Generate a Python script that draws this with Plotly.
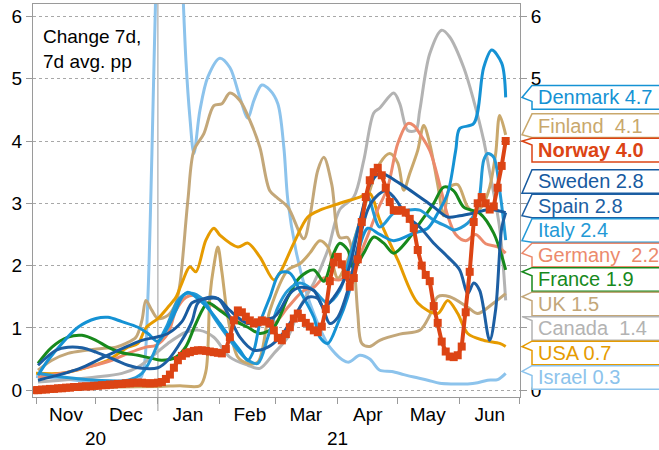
import pandas as pd
import plotly.graph_objects as go

BASE = pd.Timestamp("2021-01-01")


def days_to_dates(days):
    return [BASE + pd.Timedelta(days=int(d)) for d in days]


# ---------------- data (day offsets from 2021-01-01, values in pp) ----------------
israel_days = [-61, -45, -30, -15, -9, -7, -5, -3, -1, 2, 8, 12, 14, 16, 18, 21, 25, 31, 36, 41,
               45, 48, 52, 56, 60, 63, 65, 69, 74, 78, 86, 95, 101, 106, 111, 117, 123, 128, 135, 141,
               148, 155, 160, 165, 170, 174]
israel_vals = [0.22, 0.17, 0.13, 0.13, 0.18, 0.35, 1.5, 3.8, 6.5, 9.5, 10, 6.8, 5.3, 4.38, 3.8, 4.49, 5.03, 5.33, 5.18, 4.7,
               4.37, 4.65, 4.9, 4.82, 4.6, 3.9, 3.05, 2.25, 1.6, 1.23, 0.69, 0.45, 0.56, 0.5, 0.32, 0.3, 0.25, 0.21, 0.16, 0.11,
               0.1, 0.1, 0.12, 0.16, 0.17, 0.27]

canada_days = [-60, -31, -18, -10, -1, 5, 14, 21, 28, 36, 45, 51, 58, 65, 71, 78, 85, 91, 98, 103,
               108, 111, 118, 121, 125, 129, 131, 136, 142, 146, 153, 158, 163, 166, 171, 174]
canada_vals = [0.13, 0.21, 0.27, 0.37, 0.59, 0.75, 0.93, 0.96, 0.85, 0.53, 0.4, 0.35, 0.59, 0.85, 1.33, 1.72, 2.25, 2.9, 3.1, 3.69,
               4.45, 4.53, 4.77, 4.6, 4.17, 4.17, 4.49, 5.4, 5.78, 5.67, 5.18, 4.65, 4.01, 3.5, 2.6, 1.44]

finland_days = [-60, -39, -19, 1, 11, 21, 24, 26, 28, 30, 32, 35, 40, 45, 50, 56, 65, 71, 76, 81,
                85, 90, 95, 100, 105, 111, 116, 120, 123, 126, 130, 133, 136, 140, 143, 146, 150, 155, 159, 163,
                166, 169, 171, 174]
finland_vals = [0.03, 0.04, 0.05, 0.06, 0.07, 0.07, 0.3, 1.5, 2.0, 2.3, 1.9, 1.17, 0.53, 0.43, 0.45, 1.28, 1.93, 2.03, 2.2, 2.4,
                2.3, 1.8, 2.1, 2.6, 3.1, 3.64, 3.8, 3.65, 3.21, 3.48, 3.85, 4.25, 3.96, 3.3, 2.8, 3.26, 3.3, 2.94, 2.85, 3.0,
                3.26, 3.8, 4.41, 4.1]

uk_days = [-60, -53, -45, -36, -28, -21, -16, -11, -8, -6, -3, 0, 5, 9, 11, 15, 18, 23, 28, 32,
           36, 41, 46, 51, 56, 60, 65, 73, 76, 80, 83, 87, 91, 95, 98, 100, 102, 106, 111, 121,
           131, 136, 140, 146, 155, 160, 168, 174]
uk_vals = [0.32, 0.48, 0.59, 0.64, 0.67, 0.69, 0.75, 0.85, 1.12, 1.44, 1.28, 1.15, 1.2, 1.4, 1.7, 3.05, 3.85, 4.12, 4.57, 4.6,
           4.77, 4.65, 4.33, 3.9, 3.2, 3.08, 2.94, 2.43, 2.78, 3.53, 3.74, 3.3, 2.45, 2.45, 2.03, 1.23, 0.75, 0.7, 0.8, 0.9,
           0.96, 1.2, 1.5, 1.5, 1.33, 1.23, 1.4, 1.55]

usa_days = [-61, -48, -35, -25, -15, -10, -6, 0, 5, 9, 12, 16, 19, 24, 28, 31, 40, 45, 51, 58,
            61, 68, 75, 81, 91, 101, 106, 111, 120, 130, 140, 145, 150, 155, 163, 171, 174]
usa_vals = [0.27, 0.27, 0.37, 0.48, 0.69, 0.75, 1.0, 1.15, 1.33, 1.49, 1.72, 1.98, 1.9, 2.41, 2.6, 2.49, 2.3, 2.36, 2.14, 1.77,
            1.88, 2.36, 2.78, 2.89, 3.0, 3.1, 3.16, 2.73, 2.09, 1.4, 1.23, 1.44, 1.23, 0.91, 0.8, 0.75, 0.7]

germany_days = [-60, -48, -35, -23, -15, -6, -1, 5, 9, 14, 19, 24, 29, 34, 39, 49, 58, 65, 73, 78,
                83, 91, 97, 104, 110, 115, 120, 125, 128, 131, 136, 141, 145, 149, 154, 159, 164, 170, 174]
germany_vals = [0.21, 0.27, 0.37, 0.48, 0.59, 0.69, 0.72, 0.91, 1.28, 1.49, 1.52, 1.42, 1.33, 1.23, 1.12, 1.1, 1.07, 1.33, 1.6, 1.65,
                1.8, 1.77, 1.9, 2.4, 2.9, 3.26, 3.96, 4.28, 4.25, 4.12, 3.85, 3.3, 2.8, 2.5, 2.4, 2.5, 2.35, 2.3, 2.2]

france_days = [-60, -53, -45, -38, -31, -25, -18, -10, -3, 2, 9, 14, 19, 25, 31, 38, 45, 51, 58, 65,
               71, 78, 83, 88, 91, 95, 98, 103, 108, 113, 118, 125, 131, 138, 143, 148, 153, 161, 168, 174]
france_vals = [0.43, 0.69, 0.85, 0.88, 0.8, 0.69, 0.6, 0.56, 0.51, 0.48, 0.53, 0.7, 1.07, 1.4, 1.28, 1.12, 1.01, 0.91, 1.01, 1.49,
               1.81, 1.93, 1.75, 2.2, 2.36, 2.25, 1.95, 2.2, 2.46, 2.36, 2.2, 2.41, 2.68, 3.0, 3.26, 3.2, 2.94, 2.84, 2.52, 1.93]

italy_days = [-60, -48, -31, -15, -8, -3, 0, 5, 10, 14, 18, 23, 28, 35, 40, 45, 50, 55, 60, 65,
              71, 78, 85, 91, 96, 101, 105, 111, 118, 125, 131, 138, 145, 148, 155, 160, 163, 165, 168, 171, 174]
italy_vals = [0.27, 0.21, 0.16, 0.16, 0.27, 0.53, 0.75, 1.07, 1.44, 1.55, 1.55, 1.44, 1.17, 0.85, 0.64, 0.48, 0.43, 0.85, 1.33, 1.6,
              1.72, 1.6, 1.4, 1.6, 2.14, 2.7, 3.1, 2.62, 2.84, 2.89, 2.89, 2.73, 2.62, 2.57, 2.68, 2.94, 3.69, 3.8, 3.74, 3.21, 2.41]

denmark_days = [-60, -55, -48, -40, -31, -25, -18, -10, -5, 0, 5, 9, 12, 15, 21, 26, 31, 36, 41, 45,
                48, 51, 56, 61, 66, 71, 78, 81, 85, 90, 95, 100, 105, 111, 118, 128, 135, 140, 145, 149,
                151, 158, 163, 167, 172, 174]
denmark_vals = [0.24, 0.48, 0.75, 1.01, 1.15, 1.17, 1.1, 1.01, 0.91, 0.78, 1.01, 1.28, 1.49, 1.57, 1.44, 1.28, 1.07, 0.85, 0.64, 0.48,
                0.64, 1.07, 1.49, 1.88, 1.88, 1.6, 1.17, 0.85, 0.75, 1.07, 1.5, 2.2, 2.6, 2.5, 2.4, 2.52, 2.6, 2.84, 3.16, 3.85,
                4.2, 4.28, 5.18, 5.46, 5.25, 4.7]

sweden_days = [-60, -49, -39, -29, -19, -8, -1, 5, 12, 17, 21, 30, 36, 45, 51, 58, 61, 66, 71, 78,
               83, 88, 95, 101, 106, 111, 121, 131, 138, 145, 151, 159, 166, 174]
sweden_vals = [0.16, 0.25, 0.35, 0.5, 0.65, 0.8, 0.85, 0.91, 1.1, 1.4, 1.45, 1.47, 1.28, 1.07, 1.12, 1.17, 1.28, 1.55, 1.65, 1.6,
               1.33, 1.49, 1.9, 2.7, 3.3, 3.48, 3.32, 3.1, 2.94, 2.78, 2.8, 2.85, 2.9, 2.85]

spain_days = [-60, -51, -45, -38, -31, -21, -15, -8, 0, 5, 12, 17, 20, 25, 30, 35, 41, 48, 55, 61,
              68, 75, 80, 83, 86, 90, 95, 100, 105, 109, 114, 118, 125, 131, 138, 145, 151, 155, 158, 161,
              166, 169, 172, 174]
spain_vals = [0.4, 0.64, 0.69, 0.68, 0.61, 0.48, 0.4, 0.35, 0.36, 0.48, 0.8, 1.1, 1.4, 1.49, 1.47, 1.23, 0.85, 0.64, 0.69, 0.85,
              1.17, 1.49, 1.47, 1.28, 1.07, 1.17, 1.6, 2.3, 2.9, 3.1, 3.2, 3.1, 2.78, 2.62, 2.36, 2.14, 1.93, 1.55, 1.72, 1.6,
              0.8, 1.3, 2.6, 2.85]

# Norway: every second day from 2020-10-31
norway_start = "2020-10-31"
norway_vals = [
    0.00, 0.00, 0.01, 0.01, 0.02, 0.02, 0.03, 0.03, 0.04, 0.04,
    0.05, 0.05, 0.06, 0.06, 0.06, 0.07, 0.07, 0.08, 0.08, 0.09,
    0.09, 0.10, 0.10, 0.11, 0.11, 0.12, 0.12, 0.12, 0.11, 0.11,
    0.11, 0.12, 0.13, 0.18, 0.25, 0.36, 0.48, 0.55, 0.59, 0.61,
    0.63, 0.64, 0.64, 0.63, 0.62, 0.61, 0.60, 0.59, 0.66, 0.85,
    1.12, 1.28, 1.25, 1.18, 1.12, 1.07, 1.09, 1.12, 1.10, 1.07,
    0.96, 0.84, 0.80, 0.90, 1.01, 1.15, 1.23, 1.16, 1.08, 1.02,
    0.96, 0.93, 1.02, 1.30, 1.75, 2.05, 2.14, 2.02, 1.85, 1.66,
    1.80, 2.10, 2.70, 3.10, 3.37, 3.50, 3.57, 3.45, 3.25, 3.02,
    2.89, 2.88, 2.89, 2.85, 2.75, 2.60, 2.25, 2.00, 1.85, 1.75,
    1.35, 1.08, 0.78, 0.62, 0.54, 0.53, 0.56, 0.70, 1.25, 1.90,
    2.70, 3.00, 3.10, 3.00, 2.90, 2.95, 3.25, 3.60, 4.00,
]
norway_dates = pd.date_range(norway_start, periods=len(norway_vals), freq="2D")

# right-hand labels
label_names = ["Denmark", "Finland", "Norway", "Sweden", "Spain", "Italy",
               "Germany", "France", "UK", "Canada", "USA", "Israel"]
label_texts = ["Denmark 4.7", "Finland\u00a0 4.1", "<b>Norway 4.0</b>", "Sweden 2.8", "Spain 2.8", "Italy 2.4",
               "Germany\u00a0 2.2", "France 1.9", "UK 1.5", "Canada\u00a0 1.4", "USA 0.7", "Israel 0.3"]
label_values = [4.7, 4.1, 4.0, 2.8, 2.8, 2.4, 2.2, 1.9, 1.5, 1.4, 0.7, 0.3]

month_names = ["Nov", "Dec", "Jan", "Feb", "Mar", "Apr", "May", "Jun"]
year_labels = ["20", "21"]
year_label_dates = ["2020-12-01", "2021-04-01"]
y_ticks = [0, 1, 2, 3, 4, 5, 6]

# ---------------- styling ----------------
colors = {
    "Denmark": "#1592d4", "Finland": "#c9a86c", "Norway": "#dc4414", "Sweden": "#175a9f",
    "Spain": "#1d5fa3", "Italy": "#2399d6", "Germany": "#ec8a6c", "France": "#17891c",
    "UK": "#c3a779", "Canada": "#b3b3b3", "USA": "#e69b00", "Israel": "#8cc3ec",
}
FONT = "Arial, Liberation Sans, sans-serif"
FS = 19
LFS = 20
W, H = 659, 450
ML, MR, MT, MB = 33, 139, 4, 53
PW, PH = W - ML - MR, H - MT - MB
Y0, Y1 = -0.11, 6.2
X0, X1 = "2020-10-30 12:00", "2021-07-01 04:00"
UNIT_PX = PH / (Y1 - Y0)
AXC = "#9a9a9a"

fig = go.Figure()

series = [
    ("Israel", israel_days, israel_vals),
    ("Canada", canada_days, canada_vals),
    ("Finland", finland_days, finland_vals),
    ("UK", uk_days, uk_vals),
    ("USA", usa_days, usa_vals),
    ("Germany", germany_days, germany_vals),
    ("France", france_days, france_vals),
    ("Italy", italy_days, italy_vals),
    ("Denmark", denmark_days, denmark_vals),
    ("Sweden", sweden_days, sweden_vals),
    ("Spain", spain_days, spain_vals),
]
for name, d, v in series:
    fig.add_trace(go.Scatter(
        x=days_to_dates(d), y=v, name=name, mode="lines",
        line=dict(color=colors[name], width=3, shape="spline", smoothing=0.9),
        hoverinfo="x+y+name",
    ))

fig.add_trace(go.Scatter(
    x=norway_dates, y=norway_vals, name="Norway", mode="lines+markers",
    line=dict(color=colors["Norway"], width=4),
    marker=dict(symbol="square", size=8, color=colors["Norway"]),
))
# invisible copy on the right-hand axis so that axis gets drawn
fig.add_trace(go.Scatter(
    x=norway_dates, y=norway_vals, yaxis="y2", mode="lines", opacity=0,
    line=dict(width=0), hoverinfo="skip", showlegend=False,
))


# ---------------- right-hand callout labels ----------------
def spread(values, gap):
    clusters = []
    for v in values:
        clusters.append([v, 1])
        while len(clusters) > 1:
            s1, n1 = clusters[-2]
            s2, n2 = clusters[-1]
            bottom1 = s1 / n1 - (n1 - 1) / 2 * gap
            top2 = s2 / n2 + (n2 - 1) / 2 * gap
            if bottom1 - top2 < gap:
                clusters[-2:] = [[s1 + s2, n1 + n2]]
            else:
                break
    out = []
    for s, n in clusters:
        m = s / n
        for i in range(n):
            out.append(m + ((n - 1) / 2 - i) * gap)
    return out


def ypaper(v):
    return (v - Y0) / (Y1 - Y0)


def xpaper(px_right_of_axis):
    return 1 + px_right_of_axis / PW


centers = spread(label_values, 24.5 / UNIT_PX)
half = 11.8 / UNIT_PX
shapes = []
annotations = []
boxes = []
for name, txt, val, c in zip(label_names, label_texts, label_values, centers):
    top, bot = c + half, c - half
    boxes.append((bot, top))
    tip = min(max(val, bot), top)
    notch = max(bot, tip - 4 / UNIT_PX)
    xl, xt, xr = xpaper(12), xpaper(2), xpaper(200)
    path = (f"M {xr},{ypaper(top)} L {xl},{ypaper(top)} L {xt},{ypaper(tip)} "
            f"L {xl},{ypaper(notch)} L {xl},{ypaper(bot)} L {xr},{ypaper(bot)} Z")
    shapes.append(dict(type="path", path=path, xref="paper", yref="paper",
                       fillcolor="white", line=dict(color=colors[name], width=1.5), layer="above"))
    annotations.append(dict(text=txt, xref="paper", yref="paper", x=xpaper(16), y=ypaper(c),
                            xanchor="left", yanchor="middle", showarrow=False,
                            font=dict(family=FONT, size=LFS, color=colors[name])))


# right-axis tick labels that the label boxes hide
def covered(t):
    ext = 7 / UNIT_PX
    lo, hi = t - ext, t + ext
    ov = sum(max(0.0, min(hi, b[1]) - max(lo, b[0])) for b in boxes)
    return ov > ext


right_text = ["" if covered(t) else str(t) for t in y_ticks]

# Jan 1 separator
shapes.append(dict(type="line", xref="x", yref="paper", x0="2021-01-01", x1="2021-01-01",
                   y0=-14 / PH, y1=1, line=dict(color=AXC, width=1), layer="below"))

annotations.append(dict(text="Change 7d,<br>7d avg. pp", xref="paper", yref="paper", x=0, y=1,
                        xanchor="left", yanchor="top", xshift=8, yshift=-20, align="left",
                        showarrow=False, font=dict(family=FONT, size=FS, color="black")))
for t, dt in zip(year_labels, year_label_dates):
    annotations.append(dict(text=t, xref="x", yref="paper", x=dt, y=-41 / PH, yanchor="middle",
                            showarrow=False, font=dict(family=FONT, size=FS, color="black")))

month_starts = pd.date_range("2020-11-01", "2021-07-01", freq="MS")
mid_months = [s + pd.Timedelta(days=15) for s in month_starts[:-1]]

fig.update_layout(
    width=W, height=H, margin=dict(l=ML, r=MR, t=MT, b=MB),
    paper_bgcolor="white", plot_bgcolor="white", showlegend=False,
    font=dict(family=FONT, size=FS, color="black"),
    shapes=shapes, annotations=annotations,
    xaxis=dict(type="date", range=[X0, X1], tickvals=mid_months, ticktext=month_names,
               ticks="", showgrid=False, showline=True, linecolor=AXC, mirror=True,
               zeroline=False, tickfont=dict(size=FS),
               minor=dict(tickvals=list(month_starts), ticks="outside", ticklen=6,
                          tickcolor=AXC, showgrid=False)),
    yaxis=dict(range=[Y0, Y1], tickvals=y_ticks, ticks="outside", ticklen=6, tickcolor=AXC,
               showgrid=True, gridcolor="#a8a8a8", griddash="dot", gridwidth=1,
               zeroline=False, showline=True, linecolor=AXC, mirror=True, tickfont=dict(size=FS)),
    yaxis2=dict(range=[Y0, Y1], tickvals=y_ticks, ticktext=right_text, overlaying="y", side="right",
                ticks="outside", ticklen=6, tickcolor=AXC, showgrid=False, zeroline=False,
                showline=False, tickfont=dict(size=FS)),
)

fig.write_html("out.html", config={"displayModeBar": False},
               post_script="document.body.style.margin='0';")
